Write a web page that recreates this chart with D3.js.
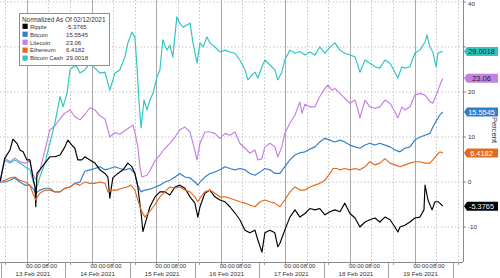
<!DOCTYPE html>
<html><head><meta charset="utf-8">
<script src="https://cdn.jsdelivr.net/npm/d3@7/dist/d3.min.js"></script>
<style>
html,body{margin:0;padding:0;background:#fff;}
svg{display:block;font-family:"Liberation Sans",Arial,sans-serif;}
</style></head>
<body><svg id="c" width="500" height="278"></svg>
<script>
// ---- data: [hours since 13 Feb 2021 00:00, percent] ----
const seriesNames = ["Ripple","Bitcoin","Litecoin","Ethereum","Bitcoin Cash"];
const lastValues = ["-5.3765","15.5545","23.06","6.4182","29.0018"];
const legendTitle = "Normalized As Of 02/12/2021";
const dayLabels = ["13 Feb 2021","14 Feb 2021","15 Feb 2021","16 Feb 2021","17 Feb 2021","18 Feb 2021","19 Feb 2021"];
const hourLabels = ["00:00","08:00"];
const yTicks = [40,30,20,10,0,-10];
const yTickLabels = ["40","","20","10","0","-10"]; // "30" sits behind the last-value box
const yLabel = "Percent";

const ripple = [[-10,0],[-8.2,5.3],[-6.3,7.1],[-5.2,9.5],[-3.7,8.6],[-2.6,7.1],[-1.4,6.7],[0,4.9],[1.1,4.9],[2.2,1.1],[3.0,-1.1],[3.3,-5.5],[3.7,1.9],[4.8,2.7],[6.7,4.2],[8.5,5.6],[10.4,5.6],[12.3,6],[14.1,7.8],[15.2,9.3],[16.7,8.2],[17.8,7.5],[18.9,4.9],[20.4,4.9],[21.5,5.6],[23.4,4.9],[25.3,4.2],[27.1,2.7],[29.0,1.9],[30.1,1.1],[30.8,-3.6],[31.9,0.9],[33.8,1.9],[35.7,2.7],[37.5,4.2],[39.0,3.4],[40.1,1.9],[41.2,-1.1],[42.4,-6.9],[43.1,-11],[44.6,-7.8],[45.7,-5.5],[47.6,-3.3],[49.4,-2.2],[51.3,-2.2],[53.1,-2.9],[55.0,-1.1],[56.8,-0.7],[58.7,-1.4],[60.6,-3.3],[62.4,-4.7],[63.5,-7.8],[64.3,-5.5],[66.1,-2.5],[68.0,-1.8],[69.8,-3.3],[71.7,-4],[73.6,-4.4],[75.4,-5.5],[77.3,-6.9],[79.1,-8.4],[81.0,-10.7],[82.8,-11.3],[84.7,-10.7],[85.8,-12.9],[87.3,-15.6],[88.4,-11.3],[90.3,-10.7],[92.1,-11.3],[93.2,-14.4],[94.0,-13.6],[95.8,-10.7],[97.7,-7.8],[99.6,-6.2],[101.4,-7.8],[103.3,-7.0],[105.1,-5.9],[107.0,-6.2],[108.8,-5.9],[110.7,-7.3],[112.6,-6.6],[114.4,-6.2],[116.3,-6.6],[118.1,-4.7],[120.0,-7],[121.9,-8],[123.7,-10],[125.6,-8.9],[127.4,-8.4],[129.3,-8],[131.1,-8.9],[133.0,-7.8],[134.9,-8.4],[136.7,-10],[137.8,-11.1],[138.6,-10],[140.4,-9.6],[142.3,-8.9],[144.1,-8],[146.0,-7.8],[147.5,-6.2],[147.9,-0.7],[149.0,-4],[150.5,-6.2],[151.6,-4.4],[152.7,-4.4],[153.4,-4.7],[154.5,-5.3765]];

const bitcoin = [[-10,0],[-8.2,0],[-6.3,0.4],[-4.5,0.9],[-2.6,0],[-0.7,-0.7],[1.1,-0.7],[2.2,-1.4],[3.3,-2.5],[4.8,-1.8],[6.7,-1.4],[8.5,-1.4],[10.4,-2.2],[12.3,-2.2],[14.1,-1.4],[16.0,-1.1],[17.8,-0.3],[19.7,0],[21.5,2.4],[23.4,2.7],[25.3,3],[27.1,3.4],[29.0,2.7],[30.8,3],[32.7,3.4],[34.5,3],[36.4,2.7],[38.3,3],[40.1,1.9],[41.2,-0.7],[42.4,-2.2],[43.8,-1.8],[45.7,-1.6],[47.6,-1.1],[49.4,-0.7],[51.3,0],[53.1,0.4],[55.0,1.1],[56.8,1.9],[58.7,1.1],[60.6,0.9],[62.4,0],[63.5,-0.7],[64.3,0],[66.1,1.1],[68.0,1.9],[69.8,2.2],[71.7,2.7],[73.6,3.4],[75.4,3],[77.3,2.7],[79.1,3],[81.0,2.7],[82.8,1.9],[84.7,1.5],[86.6,2.2],[88.4,3],[90.3,2.7],[92.1,1.9],[94.0,1.9],[95.8,3.4],[97.7,4.9],[99.6,6],[101.4,6.5],[103.3,6.7],[105.1,7.3],[107.0,7.8],[108.8,8.9],[110.7,9.7],[112.6,9.3],[114.4,8.9],[116.3,9.3],[118.1,8.9],[120.0,8.2],[121.9,7.8],[123.7,7.5],[125.6,8.2],[127.4,8.6],[129.3,8.2],[131.1,8.6],[133.0,8.2],[134.9,7.8],[136.7,7.1],[138.6,6.7],[140.4,7.5],[142.3,7.8],[144.1,9.3],[146.0,10],[147.9,10.4],[149.7,10.8],[150.8,12.2],[152.3,13.8],[153.4,14.9],[154.5,15.5545]];

const litecoin = [[-10,0],[-8.2,5.3],[-6.3,4.5],[-4.5,5.3],[-2.6,4.5],[-0.7,4.2],[1.1,4.6],[2.2,1.8],[3.3,0.5],[4.8,2.5],[6.7,7.1],[8.5,11.5],[10.4,12.5],[12.3,14],[14.1,15.3],[16.0,16],[17.8,14.5],[19.7,13.8],[21.5,15],[23.4,16.5],[25.3,16],[27.1,14.7],[29.0,14],[30.8,10],[32.7,11],[34.5,10.6],[36.4,11.4],[38.3,12.2],[39.4,12.7],[40.1,11.1],[41.2,7.8],[42.0,3.4],[42.7,1.1],[44.6,1.5],[45.7,2.5],[47.6,4.7],[49.4,6],[51.3,7.5],[53.1,8.6],[55.0,10],[56.8,11.6],[58.7,12.2],[60.6,11.1],[61.7,8.6],[63.2,4.9],[64.3,8.6],[66.1,11.1],[68.0,11.1],[69.8,10.8],[71.7,9.7],[73.6,10.8],[75.4,10.4],[77.3,11.1],[79.1,8.6],[81.0,7.5],[82.8,6.4],[84.7,7.1],[85.8,4.9],[87.3,5.2],[88.4,7.8],[90.3,8.6],[92.1,7.8],[93.2,5.6],[94.7,7.8],[95.8,10.8],[97.7,13.1],[99.6,14.9],[101.4,17.8],[102.2,15.3],[103.3,17.3],[105.1,16.7],[107.0,16.7],[108.8,19],[110.7,20.8],[111.8,21.5],[113.3,20.4],[114.4,20.8],[116.3,19.7],[118.1,18.6],[120.0,17.5],[121.9,18.2],[123.0,16],[123.7,14.2],[125.6,18.2],[127.4,16.7],[129.3,16.4],[131.1,16.7],[133.0,18.2],[134.9,17.5],[136.7,15.6],[137.8,14.2],[139.3,16.7],[140.4,16],[142.3,16.7],[144.1,19.3],[146.0,19.7],[147.9,19.3],[149.7,17.9],[150.8,17.5],[152.3,19.7],[153.4,21.5],[154.5,23.06]];

const ethereum = [[-10,0],[-8.2,0.4],[-6.3,0.9],[-4.5,1.1],[-2.6,0.4],[-0.7,0],[1.1,-0.7],[2.2,-2.5],[3.3,-4],[4.8,-2.5],[6.7,-1.8],[8.5,-1.8],[10.4,-2.2],[12.3,-2.2],[14.1,-1.4],[16.0,-1.1],[17.8,-0.3],[19.7,-0.7],[21.5,0],[23.4,-0.3],[25.3,-0.3],[27.1,0],[29.0,-0.3],[30.1,-2.2],[31.6,-1.8],[33.4,-1.8],[35.3,-1.4],[37.2,-1.1],[38.6,-0.7],[40.1,-1.8],[41.2,-4],[42.4,-6.2],[43.8,-7.8],[45.7,-6.5],[47.6,-5],[49.4,-3.3],[51.3,-2.2],[53.1,-1.1],[55.0,-1.4],[56.8,-1.1],[58.7,-1.8],[60.6,-2.2],[62.4,-3.3],[63.5,-4.4],[64.3,-3.6],[66.1,-2.2],[68.0,-1.8],[69.8,-2.5],[71.7,-3.3],[73.6,-3.3],[75.4,-3.6],[77.3,-4],[79.1,-4.4],[81.0,-4.7],[82.8,-5.1],[84.7,-5.5],[86.6,-4.4],[88.4,-4],[90.3,-4.4],[92.1,-4.7],[94.0,-5.5],[95.8,-4],[97.7,-2.2],[99.6,-1.1],[101.4,-1.8],[103.3,-1.8],[105.1,-1.1],[107.0,-0.7],[108.8,-0.3],[110.7,0.4],[112.6,1.9],[113.7,3],[115.2,3],[116.3,2.7],[118.1,3],[120.0,2.7],[121.9,3],[123.7,2.7],[125.6,3.4],[127.4,4.5],[129.3,3.8],[131.1,4.2],[133.0,5.2],[134.9,4.2],[136.7,3.8],[138.6,3.4],[140.4,3.8],[142.3,4.2],[144.1,4.5],[146.0,4.5],[147.9,4.2],[149.7,4.2],[150.8,4.9],[152.3,6],[153.4,6.7],[154.5,6.4182]];

const bitcoinCash = [[-10,0],[-8.2,4.9],[-6.3,4.2],[-4.5,4.9],[-2.6,4.2],[-0.7,3.4],[1.1,2.7],[2.2,0.4],[3.3,-1.8],[4.8,1.1],[6.7,4.2],[8.5,8.6],[10.4,13.1],[12.3,19],[13.4,16.7],[14.9,19.7],[16.0,24.9],[17.1,25.6],[18.6,25.6],[19.7,24.2],[21.5,24.9],[23.4,26.4],[25.3,25.3],[27.1,24.2],[29.0,24.4],[30.8,20.4],[32.7,24.2],[34.5,24.9],[36.4,27.8],[37.5,30.9],[39.0,33.3],[40.1,32.2],[40.9,25.6],[41.6,18.2],[42.4,12],[43.5,18.2],[44.6,16],[45.7,18.2],[46.8,19.7],[48.3,23.3],[49.4,24.9],[50.5,31.6],[52.0,29.3],[53.1,30.4],[54.2,27.8],[55.7,36.7],[56.8,35.3],[58.0,34.4],[59.4,34.9],[60.6,35.3],[61.7,30.9],[63.2,26.4],[64.3,30.9],[65.4,30],[66.9,32.2],[68.0,30.9],[69.8,30],[71.7,28.9],[73.6,29.3],[75.4,28.9],[77.3,28.6],[79.1,27.1],[81.0,24.9],[82.1,22.7],[83.6,23.8],[84.7,24.4],[85.8,23.1],[87.3,25.6],[88.4,27.1],[90.3,26],[92.1,24.9],[93.2,22.7],[94.7,24.4],[95.8,27.1],[97.7,29.3],[99.6,28.6],[101.4,29],[103.3,28.2],[105.1,28.9],[107.0,28.2],[108.8,30],[110.7,28.6],[112.6,30],[114.4,30.9],[116.3,29.3],[118.1,28.6],[120.0,28.2],[121.9,27.8],[123.7,24.4],[125.6,27.1],[127.4,26.4],[129.3,25.6],[131.1,25.3],[133.0,27.1],[134.9,26.4],[136.7,24.4],[137.8,23.1],[139.3,25.6],[140.4,25.3],[142.3,25.6],[144.1,28.6],[146.0,29.3],[147.9,31.1],[148.6,32.7],[149.7,30],[150.8,28.9],[152.0,25.6],[152.7,28.6],[153.8,28.9],[154.5,29.0018]];

const seriesData = [ripple, bitcoin, litecoin, ethereum, bitcoinCash];
const colors = ["#000000","#2f7fd0","#c27fe6","#e36a1c","#2dc4c1"];
const boxText = ["#ffffff","#ffffff","#222222","#ffffff","#222222"];
const drawOrder = [4,2,1,0,3];

// ---- scales ----
const base = Date.UTC(2021,1,13);
const t = h => new Date(base + h*3600e3);
const L=0, R=463, T=0, B=262;
const x = d3.scaleUtc().domain([t(-10), t(162)]).range([L, R]);
const y = d3.scaleLinear().domain([-17.78, 40.44]).range([B, T]);

const svg = d3.select("#c");
const fs = 6.2;

// horizontal grid
svg.append("g").selectAll("line").data(yTicks).join("line")
  .attr("x1",L).attr("x2",R).attr("y1",d=>y(d)).attr("y2",d=>y(d))
  .attr("stroke","#b5b5b5").attr("stroke-width",0.8).attr("stroke-dasharray","1.5,2");

// vertical grid every 8h
const gridTimes = d3.utcHour.every(8).range(t(-10), t(162));
svg.append("g").selectAll("line").data(gridTimes).join("line")
  .attr("x1",d=>Math.round(x(d))+0.5).attr("x2",d=>Math.round(x(d))+0.5).attr("y1",T).attr("y2",B)
  .attr("stroke",d=>d.getUTCHours()===0?"#a8a8a8":"#b8b8b8")
  .attr("stroke-width",d=>d.getUTCHours()===0?1:0.8)
  .attr("stroke-dasharray",d=>d.getUTCHours()===0?null:"1.5,2");

// lines
const line = d3.line().x(d=>x(t(d[0]))).y(d=>y(d[1]));
svg.append("defs").append("clipPath").attr("id","clip").append("rect").attr("x",L).attr("y",T).attr("width",R-L).attr("height",B-T);
const lg = svg.append("g").attr("clip-path","url(#clip)");
drawOrder.forEach(i=>{
  lg.append("path").datum(seriesData[i]).attr("d",line).attr("fill","none")
    .attr("stroke",colors[i]).attr("stroke-width",1.15).attr("stroke-linejoin","round");
});

// x axis
svg.append("line").attr("x1",L).attr("x2",R).attr("y1",B+0.5).attr("y2",B+0.5).attr("stroke","#8a8a8a");
svg.append("g").selectAll("line").data(gridTimes).join("line")
  .attr("x1",d=>Math.round(x(d))+0.5).attr("x2",d=>Math.round(x(d))+0.5).attr("y1",B).attr("y2",B+3)
  .attr("stroke","#8a8a8a").attr("stroke-width",0.8);
const days = d3.range(dayLabels.length).map(i=>i*24);
// group separators
const seps = d3.range(dayLabels.length+1).map(i=>i*24-9.7);
svg.append("g").selectAll("line").data(seps.filter(h=>x(t(h))>=L-1 && x(t(h))<=R)).join("line")
  .attr("x1",d=>Math.round(x(t(d)))+0.5).attr("x2",d=>Math.round(x(t(d)))+0.5).attr("y1",B).attr("y2",278)
  .attr("stroke","#8a8a8a").attr("stroke-width",0.8);
const xl = svg.append("g").attr("font-size",6).attr("fill","#333");
days.forEach((h,i)=>{
  xl.append("text").attr("x",x(t(h))-1).attr("y",268.4).attr("text-anchor","start").text(hourLabels[0]);
  xl.append("text").attr("x",x(t(h+8))-6.5).attr("y",268.4).attr("text-anchor","start").text(hourLabels[1]);
  xl.append("text").attr("x",x(t(h))+6).attr("y",276.4).attr("text-anchor","middle").attr("font-size",6.2).text(dayLabels[i]);
});

// y axis
svg.append("line").attr("x1",R+0.5).attr("x2",R+0.5).attr("y1",T).attr("y2",B).attr("stroke","#8a8a8a");
svg.append("g").selectAll("line").data(yTicks).join("line")
  .attr("x1",R).attr("x2",R+3).attr("y1",d=>y(d)).attr("y2",d=>y(d)).attr("stroke","#8a8a8a");
svg.append("g").attr("font-size",fs).attr("fill","#333").selectAll("text").data(yTicks).join("text")
  .attr("x",R+5).attr("y",d=>Math.max(y(d)+2.3,5.6)).text((d,i)=>yTickLabels[i]);
svg.append("text").attr("transform",`translate(${492},${130}) rotate(90)`)
  .attr("text-anchor","middle").attr("font-size",7.6).attr("fill","#333").text(yLabel);

// value boxes
seriesData.forEach((s,i)=>{
  const v = s[s.length-1][1], yc = y(v);
  const g = svg.append("g");
  g.append("path").attr("d",`M${R+1},${yc} L${R+4},${yc-4.5} L498,${yc-4.5} L498,${yc+4.5} L${R+4},${yc+4.5} Z`)
    .attr("fill",colors[i]);
  g.append("text").attr("x",481.5).attr("y",yc+2.6).attr("text-anchor","middle")
    .attr("font-size",7.4).attr("fill",boxText[i]).text(lastValues[i]);
});

// legend
const leg = svg.append("g");
leg.append("rect").attr("x",19.5).attr("y",13.5).attr("width",90).attr("height",52)
  .attr("fill","#fff").attr("stroke","#8f8f8f").attr("stroke-width",1);
leg.append("text").attr("x",22).attr("y",21.6).attr("font-size",6.4).attr("fill","#333").text(legendTitle);
seriesNames.forEach((n,i)=>{
  const yc = 26.3 + i*7.95;
  leg.append("rect").attr("x",22.5).attr("y",yc-2.6).attr("width",5.2).attr("height",5.2).attr("fill",colors[i]);
  leg.append("text").attr("x",30).attr("y",yc+2.3).attr("font-size",5.9).attr("fill","#333").text(n);
  leg.append("text").attr("x",66).attr("y",yc+2.3).attr("font-size",6.1).attr("fill","#333").text(lastValues[i]);
});
</script>
</body></html>
